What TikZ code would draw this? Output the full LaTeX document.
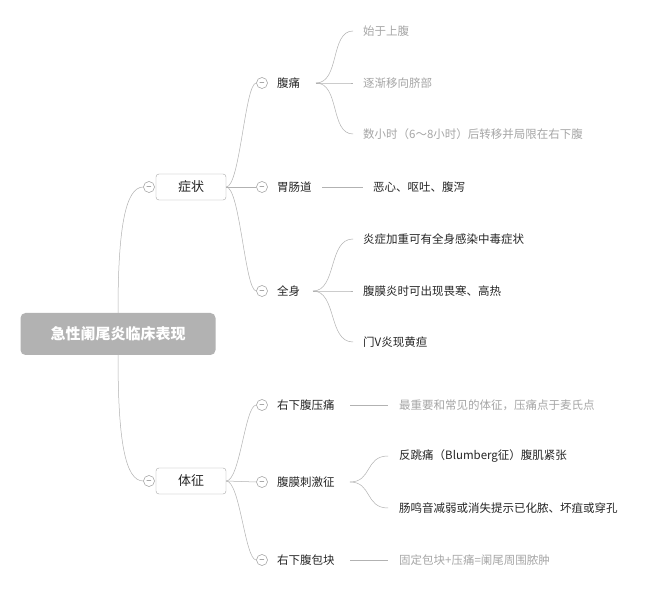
\documentclass[tikz,border=0pt]{standalone}
\usepackage{fontspec}
\setmainfont{Noto Sans CJK SC}
\begin{document}
\begin{tikzpicture}[x=1pt,y=-1pt,
  ln/.style={draw=black!30,line width=0.5pt},
  cir/.style={circle,draw=black!40,fill=white,minimum size=11pt,inner sep=0pt,line width=0.5pt},
  lone/.style={draw=black!35,rounded corners=3pt,minimum width=70pt,minimum height=26pt,font=\fontsize{13}{15}\selectfont,text=black!85},
  ltwo/.style={anchor=west,font=\fontsize{11.5}{13}\selectfont,text=black!85,inner sep=0pt},
  lgray/.style={anchor=west,font=\fontsize{11.5}{13}\selectfont,text=black!35,inner sep=0pt},
  ldark/.style={anchor=west,font=\fontsize{11.5}{13}\selectfont,text=black!85,inner sep=0pt}]
\useasboundingbox (0,0) rectangle (659,593);
\fill[white] (0,0) rectangle (659,593);
\node[fill=black!30,rounded corners=5pt,minimum width=195pt,minimum height=42pt,text=white,font=\bfseries\fontsize{15}{17}\selectfont] (root) at (118,334) {急性阑尾炎临床表现};
\node[lone] (zz) at (191,187) {症状};
\node[lone] (tz) at (191,481) {体征};
\node[cir] (czz) at (149,187) {\scriptsize$-$};
\node[cir] (ctz) at (149,481) {\scriptsize$-$};
\draw[ln] (root.north) .. controls (118,230) and (125,187) .. (czz.west);
\draw[ln] (root.south) .. controls (118,440) and (125,481) .. (ctz.west);
% level 2
\foreach \n/\y/\t in {a/83/腹痛,b/187/胃肠道,c/291/全身,d/405/右下腹压痛,e/482/腹膜刺激征,f/560/右下腹包块}{
  \node[cir] (c\n) at (262,\y) {\scriptsize$-$};
  \node[ltwo] (t\n) at (277,\y) {\t};
}
\draw[ln] (zz.east) .. controls (240,187) and (245,83) .. (ca.west);
\draw[ln] (zz.east) -- (cb.west);
\draw[ln] (zz.east) .. controls (240,187) and (245,291) .. (cc.west);
\draw[ln] (tz.east) .. controls (240,481) and (245,405) .. (cd.west);
\draw[ln] (tz.east) -- (ce.west);
\draw[ln] (tz.east) .. controls (240,481) and (245,560) .. (cf.west);
% leaves
\coordinate (pa) at (316,83);
\node[lgray] (a1) at (363,31) {始于上腹};
\node[lgray] (a2) at (363,83) {逐渐移向脐部};
\node[lgray] (a3) at (363,134) {数小时（6～8小时）后转移并局限在右下腹};
\foreach \k/\y in {1/31,2/83,3/134}{\draw[ln] (pa) .. controls (340,83) and (330,\y) .. ([xshift=-10pt]a\k.west);}
\node[ldark] (b1) at (373,187) {恶心、呕吐、腹泻};
\coordinate (pb) at (322,187);
\draw[ln] (pb) -- ([xshift=-10pt]b1.west);
\coordinate (pc) at (313,291);
\node[ldark] (c1) at (363,239) {炎症加重可有全身感染中毒症状};
\node[ldark] (c2) at (363,291) {腹膜炎时可出现畏寒、高热};
\node[ldark] (c3) at (363,342) {门V炎现黄疸};
\foreach \k/\y in {1/239,2/291,3/342}{\draw[ln] (pc) .. controls (337,291) and (328,\y) .. ([xshift=-10pt]c\k.west);}
\node[lgray] (d1) at (399,405) {最重要和常见的体征，压痛点于麦氏点};
\coordinate (pd) at (350,405);
\draw[ln] (pd) -- ([xshift=-11pt]d1.west);
\coordinate (pe) at (350,482);
\node[ldark] (e1) at (399,456) {反跳痛（Blumberg征）腹肌紧张};
\node[ldark] (e2) at (399,508) {肠鸣音减弱或消失提示已化脓、坏疽或穿孔};
\foreach \k/\y in {1/456,2/508}{\draw[ln] (pe) .. controls (372,482) and (365,\y) .. ([xshift=-11pt]e\k.west);}
\node[lgray] (f1) at (399,560) {固定包块+压痛=阑尾周围脓肿};
\coordinate (pf) at (350,560);
\draw[ln] (pf) -- ([xshift=-11pt]f1.west);
\end{tikzpicture}
\end{document}
